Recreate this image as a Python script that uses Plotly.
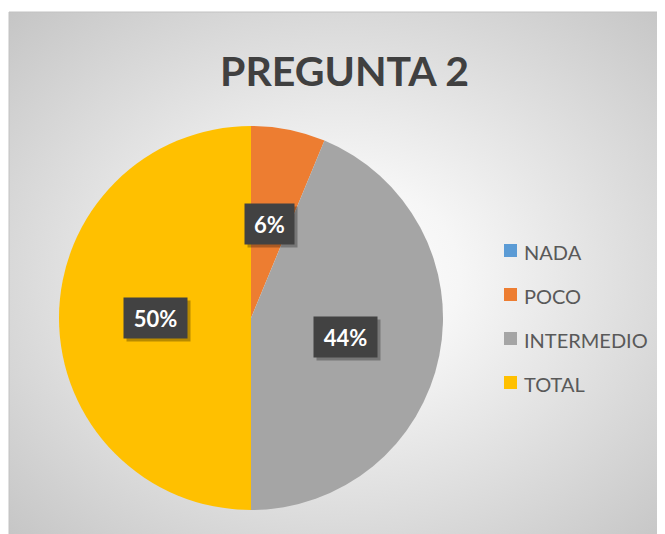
import base64
import math
import plotly.graph_objects as go

# ---- data ----
categories = ["NADA", "POCO", "INTERMEDIO", "TOTAL"]
counts = [0, 1, 7, 8]
colors = ["#5B9BD5", "#ED7D31", "#A5A5A5", "#FFC000"]
title_text = "PREGUNTA 2"

# the page body has an 8px default margin; work in screen pixels and convert
OFF = 8
W, H = 665 - OFF, 534 - OFF

# pie placement (screen pixels)
pie_left, pie_right, pie_top, pie_bottom = 59, 443, 126, 510
cx = (pie_left + pie_right) / 2
cy = (pie_top + pie_bottom) / 2
R = (pie_right - pie_left) / 2


def px(x):
    return (x - OFF) / W


def py(y):
    return 1 - (y - OFF) / H


fig = go.Figure()
fig.add_trace(go.Pie(
    labels=categories,
    values=counts,
    marker=dict(colors=colors, line=dict(width=0)),
    sort=False,
    direction="clockwise",
    rotation=0,
    textinfo="none",
    hoverinfo="label+percent",
    showlegend=False,
    domain=dict(x=[px(pie_left), px(pie_right)], y=[py(pie_bottom), py(pie_top)]),
))

# background gradient (chart area)
bg_x0, bg_y0, bg_x1, bg_y1 = 9, 12, 672, 540
bw, bh = bg_x1 - bg_x0, bg_y1 - bg_y0
svg = f'''<svg xmlns="http://www.w3.org/2000/svg" width="{bw}" height="{bh}" viewBox="0 0 {bw} {bh}" preserveAspectRatio="none">
<defs><radialGradient id="g" cx="0.5" cy="0.5" r="0.72" gradientUnits="objectBoundingBox">
<stop offset="0" stop-color="#ffffff"/><stop offset="0.25" stop-color="#f6f6f6"/><stop offset="1" stop-color="#c4c4c4"/>
</radialGradient></defs>
<rect x="0" y="0" width="{bw}" height="{bh}" fill="url(#g)"/></svg>'''
uri = "data:image/svg+xml;base64," + base64.b64encode(svg.encode()).decode()

annotations = []
border = dict(color="#c2c2c2", width=1)
shapes = [
    dict(type="line", xref="paper", yref="paper", x0=px(bg_x0), x1=px(bg_x1),
         y0=py(bg_y0), y1=py(bg_y0), line=border, layer="below"),
    dict(type="line", xref="paper", yref="paper", x0=px(bg_x0), x1=px(bg_x0),
         y0=py(bg_y0), y1=py(bg_y1), line=border, layer="below"),
]

# data labels at half radius along each slice's mid-angle
total = sum(counts)
cum = 0
for cat, v in zip(categories, counts):
    start = cum
    cum += v
    if v == 0:
        continue
    mid = (start + v / 2) / total * 2 * math.pi
    lx = cx + 0.5 * R * math.sin(mid)
    ly = cy - 0.5 * R * math.cos(mid)
    txt = f"{round(100 * v / total)}%"
    bwid = 21 + 14 * len(txt)
    # shadow
    annotations.append(dict(x=px(lx), y=py(ly), xref="paper", yref="paper", text=" ",
                            showarrow=False, width=bwid, height=40, xshift=3, yshift=-3,
                            bgcolor="rgba(0,0,0,0.28)", borderpad=0,
                            xanchor="center", yanchor="middle"))
    annotations.append(dict(x=px(lx), y=py(ly), xref="paper", yref="paper",
                            text=f"<b>{txt}</b>", showarrow=False, width=bwid, height=40,
                            bgcolor="#424242", borderpad=0,
                            font=dict(family="Lato", size=22, color="#ffffff"),
                            xanchor="center", yanchor="middle"))

# legend
leg_x, leg_y0, leg_gap, sq = 504, 250.5, 44, 13
for i, (cat, col) in enumerate(zip(categories, colors)):
    yc = leg_y0 + i * leg_gap
    shapes.append(dict(type="rect", xref="paper", yref="paper",
                       x0=px(leg_x), x1=px(leg_x + sq), y0=py(yc + sq / 2), y1=py(yc - sq / 2),
                       fillcolor=col, line=dict(width=0)))
    annotations.append(dict(x=px(leg_x + sq + 5), y=py(yc + 1), xref="paper", yref="paper",
                            text=cat, showarrow=False, xanchor="left", yanchor="middle",
                            font=dict(family="Lato", size=20, color="#595959")))

# title
annotations.append(dict(x=px(344), y=py(70), xref="paper", yref="paper",
                        text=f"<b>{title_text}</b>", showarrow=False,
                        xanchor="center", yanchor="middle",
                        font=dict(family="Lato", size=41, color="#404040")))

fig.update_layout(
    width=W, height=H,
    margin=dict(l=0, r=0, t=0, b=0),
    paper_bgcolor="#ffffff",
    plot_bgcolor="rgba(0,0,0,0)",
    images=[dict(source=uri, xref="paper", yref="paper", x=px(bg_x0), y=py(bg_y0),
                 sizex=bw / W, sizey=bh / H, sizing="stretch", xanchor="left",
                 yanchor="top", layer="below")],
    shapes=shapes,
    annotations=annotations,
    showlegend=False,
)

fig.write_html("out.html")
